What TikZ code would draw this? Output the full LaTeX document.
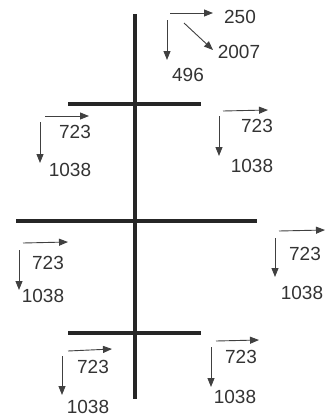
\documentclass[tikz,border=0pt]{standalone}
\usepackage{fontspec}
\setmainfont{Liberation Sans}
\usetikzlibrary{arrows.meta}

\begin{document}
\begin{tikzpicture}[x=1pt, y=-1pt,
  bar/.style={line width=4pt, draw=black!85},
  vec/.style={-{Triangle[length=9pt,width=7pt]}, line width=0.9pt, draw=black!75},
  num/.style={font=\fontsize{19}{22}\selectfont, text=black!80, inner sep=0pt}]
\useasboundingbox (0,0) rectangle (326,418);
% trunk and the three cross bars
\coordinate (top) at (135,14);   \coordinate (bot) at (135,399);
\coordinate (b1l) at (68,104);   \coordinate (b1r) at (201,104);
\coordinate (b2l) at (16,221);   \coordinate (b2r) at (257,221);
\coordinate (b3l) at (68,333);   \coordinate (b3r) at (201,333);
\draw[bar] (top) -- (bot);
\draw[bar] (b1l) -- (b1r);
\draw[bar] (b2l) -- (b2r);
\draw[bar] (b3l) -- (b3r);
% top triple
\coordinate (t0) at (170,13);  \coordinate (t1) at (213,13);
\coordinate (d0) at (184,23);  \coordinate (d1) at (213,50);
\coordinate (v0) at (167,20);  \coordinate (v1) at (167,60);
\node[num] (n250) at (240,17) {250};
\node[num] (n2007) at (239,52) {2007};
\node[num] (n496) at (188,75) {496};
\draw[vec] (t0) -- (t1);
\draw[vec] (d0) -- (d1);
\draw[vec] (v0) -- (v1);
% upper left
\coordinate (ah0) at (45,116);  \coordinate (ah1) at (89,116);
\coordinate (av0) at (40,122);  \coordinate (av1) at (40,163);
\node[num] (a723) at (75,132) {723};
\node[num] (a1038) at (70,170) {1038};
\draw[vec] (ah0) -- (ah1);
\draw[vec] (av0) -- (av1);
% upper right
\coordinate (bh0) at (223,111); \coordinate (bh1) at (268,110);
\coordinate (bv0) at (219,116); \coordinate (bv1) at (219,156);
\node[num] (b723) at (257,126) {723};
\node[num] (b1038) at (252,166) {1038};
\draw[vec] (bh0) -- (bh1);
\draw[vec] (bv0) -- (bv1);
% middle left
\coordinate (ch0) at (23,243);  \coordinate (ch1) at (68,242);
\coordinate (cv0) at (19,250);  \coordinate (cv1) at (19,290);
\node[num] (c723) at (48,263) {723};
\node[num] (c1038) at (43,296) {1038};
\draw[vec] (ch0) -- (ch1);
\draw[vec] (cv0) -- (cv1);
% middle right
\coordinate (dh0) at (279,231); \coordinate (dh1) at (325,230);
\coordinate (dv0) at (275,238); \coordinate (dv1) at (275,277);
\node[num] (d723) at (305,254) {723};
\node[num] (d1038) at (302,293) {1038};
\draw[vec] (dh0) -- (dh1);
\draw[vec] (dv0) -- (dv1);
% lower left
\coordinate (eh0) at (68,351);  \coordinate (eh1) at (112,349);
\coordinate (ev0) at (62,356);  \coordinate (ev1) at (62,395);
\node[num] (e723) at (93,367) {723};
\node[num] (e1038) at (88,407) {1038};
\draw[vec] (eh0) -- (eh1);
\draw[vec] (ev0) -- (ev1);
% lower right
\coordinate (fh0) at (216,341); \coordinate (fh1) at (259,340);
\coordinate (fv0) at (211,347); \coordinate (fv1) at (211,387);
\node[num] (f723) at (241,357) {723};
\node[num] (f1038) at (235,397) {1038};
\draw[vec] (fh0) -- (fh1);
\draw[vec] (fv0) -- (fv1);
\end{tikzpicture}
\end{document}
